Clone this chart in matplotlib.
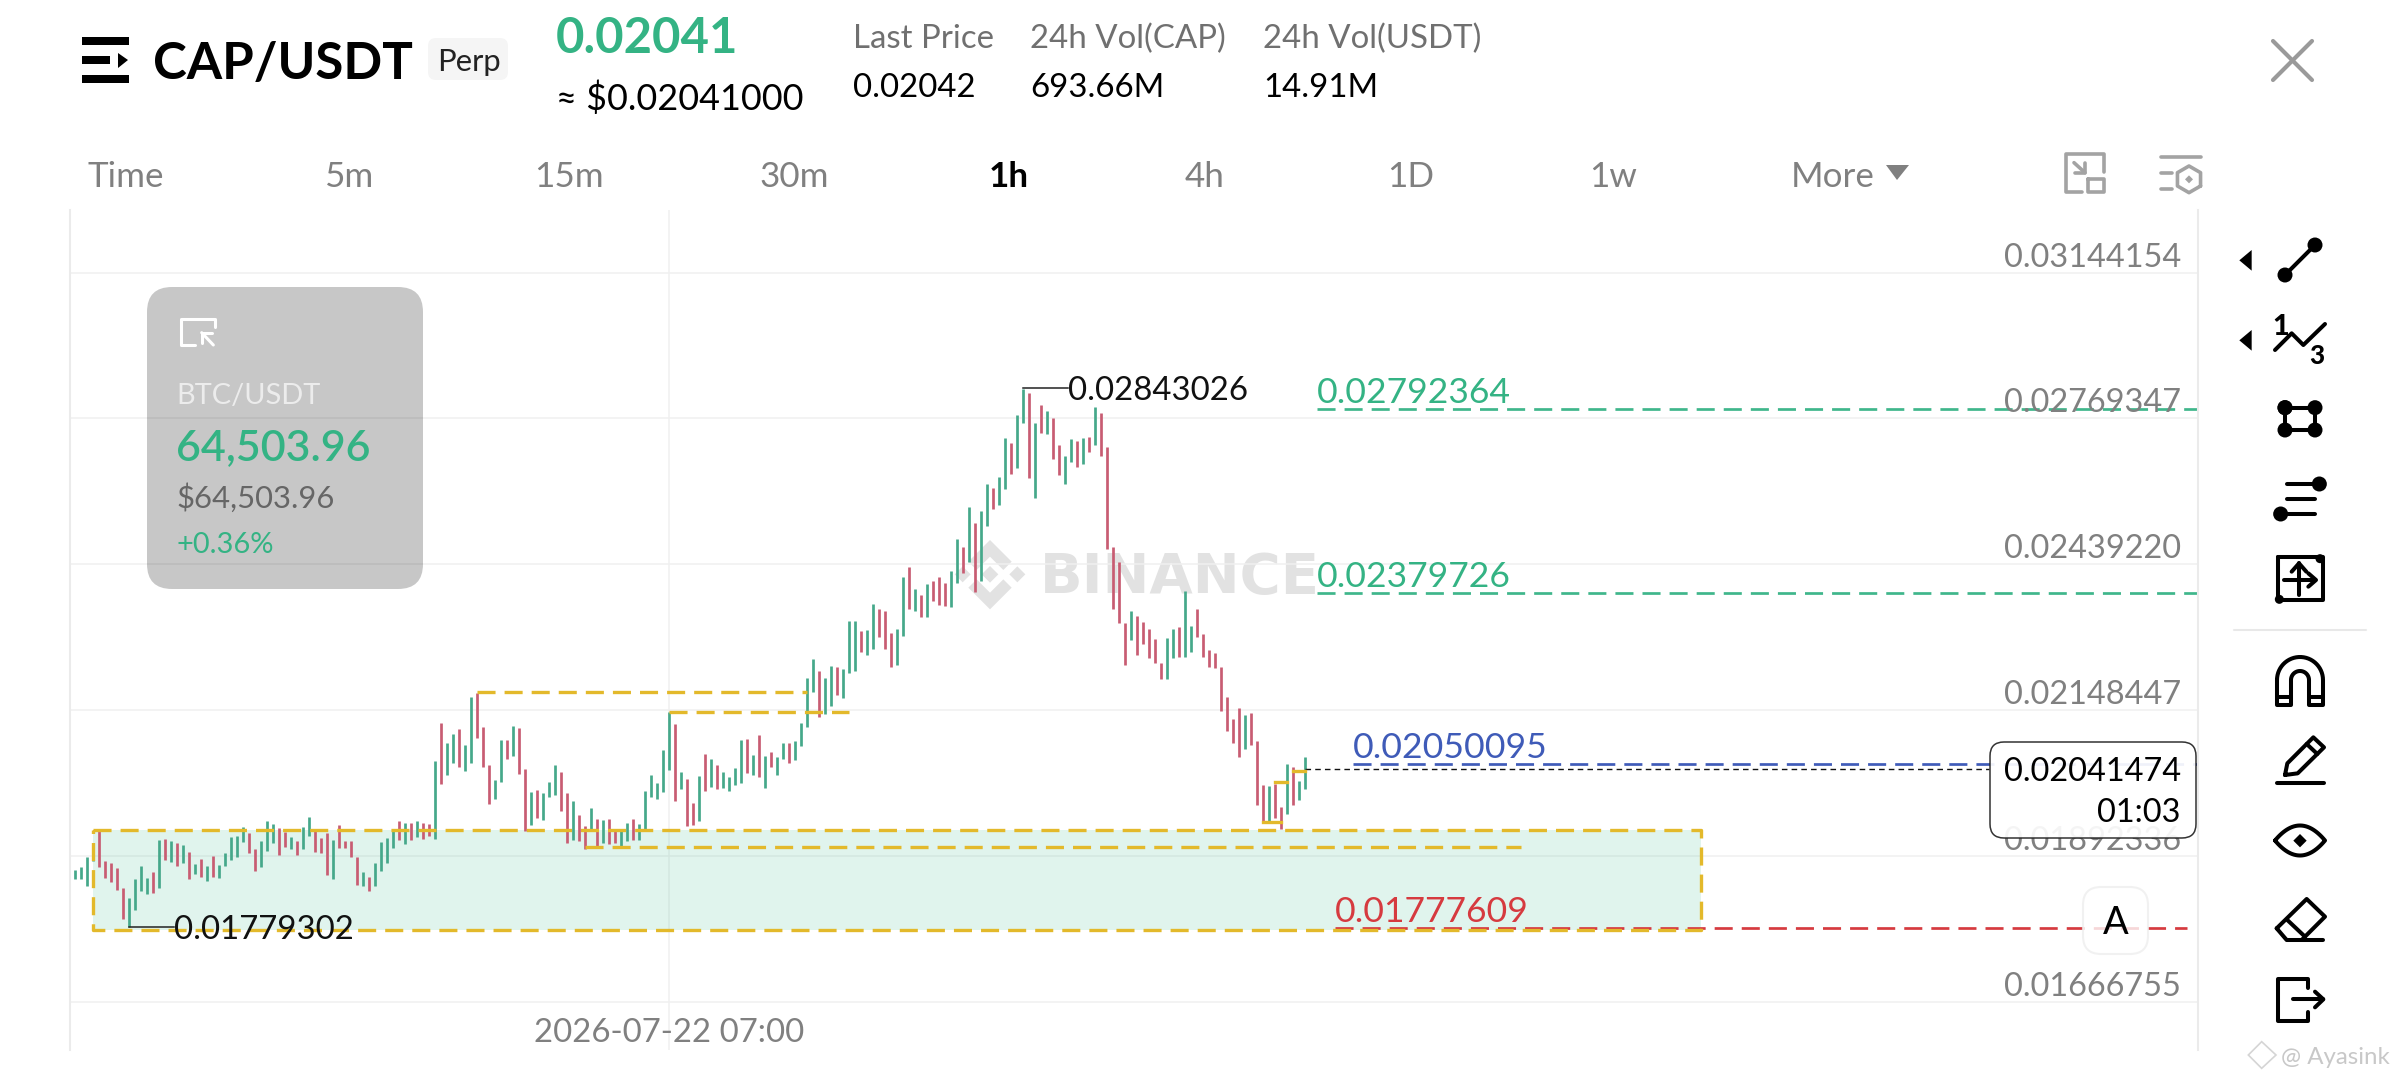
import numpy as np
import matplotlib
matplotlib.use("Agg")
import matplotlib.pyplot as plt
from matplotlib.patches import FancyBboxPatch, Polygon, Circle, Rectangle

plt.rcParams['font.family'] = ['Lato', 'DejaVu Sans']
plt.rcParams['lines.scale_dashes'] = False

# one entry per hourly bar, left to right
bar_low = [
    0.018541, 0.018541, 0.018434, 0.018845, 0.018746, 0.018557,
    0.018504, 0.018370, 0.017917, 0.017793, 0.018053, 0.018349, 0.018306, 0.018327, 0.018402, 0.018856,
    0.018823, 0.018758, 0.018812, 0.018552, 0.018628, 0.018574, 0.018509, 0.018574, 0.018563, 0.018758,
    0.018856, 0.018911, 0.019154, 0.018977, 0.018682, 0.018736, 0.018999, 0.019132, 0.018933, 0.019065,
    0.019043, 0.018933, 0.019032, 0.019254, 0.018988, 0.018966, 0.018606, 0.018552, 0.019054, 0.019054,
    0.018900, 0.018455, 0.018434, 0.018349, 0.018434, 0.018682, 0.018812, 0.019054, 0.019187, 0.019120,
    0.019187, 0.019243, 0.019209, 0.019254, 0.019209, 0.020146, 0.020298, 0.020511, 0.020440, 0.020381,
    0.020523, 0.020969, 0.020440, 0.019798, 0.019879, 0.020181, 0.020583, 0.020643, 0.020322, 0.019344,
    0.019434, 0.019558, 0.019524, 0.019913, 0.019960, 0.019672, 0.019132, 0.019187, 0.019176, 0.019032,
    0.019366, 0.019087, 0.019143, 0.019120, 0.019143, 0.019087, 0.019165, 0.019187, 0.019187, 0.019366,
    0.019913, 0.019879, 0.020012, 0.020393, 0.019844, 0.020052, 0.019422, 0.019434, 0.019513, 0.020029,
    0.020087, 0.020064, 0.020076, 0.020029, 0.020134, 0.020169, 0.020346, 0.020310, 0.020275, 0.020076,
    0.020440, 0.020310, 0.020583, 0.020523, 0.020571, 0.020823, 0.021177, 0.021826, 0.021350, 0.021412,
    0.021561, 0.021762, 0.021712, 0.022183, 0.022235, 0.022599, 0.022547, 0.022652, 0.022903, 0.022665,
    0.022312, 0.022351, 0.022916, 0.023468, 0.023414, 0.023305, 0.023305, 0.023618, 0.023550, 0.023523,
    0.023509, 0.023991, 0.024201, 0.024441, 0.023818, 0.024047, 0.025219, 0.025588, 0.025677, 0.026037,
    0.026387, 0.026525, 0.027577, 0.026295, 0.025842, 0.027338, 0.027322, 0.026742, 0.026372, 0.026158,
    0.026664, 0.026556, 0.026618, 0.026897, 0.027054, 0.026804, 0.024726, 0.023454, 0.023184, 0.022338,
    0.022836, 0.022534, 0.022757, 0.022481, 0.022377, 0.022068, 0.022068, 0.022481, 0.022508, 0.022494,
    0.022599, 0.022890, 0.022494, 0.022312, 0.022280, 0.021461, 0.021091, 0.020884, 0.020631, 0.020775,
    0.020848, 0.019775, 0.019490, 0.019513, 0.019558, 0.019366, 0.019626, 0.019787, 0.019867, 0.020064,
]
bar_high = [
    0.018693, 0.018737, 0.018900, 0.019021, 0.019343, 0.018845,
    0.018812, 0.018720, 0.018402, 0.018237, 0.018552, 0.018763, 0.018563, 0.018660, 0.019187, 0.019198,
    0.019165, 0.019132, 0.019104, 0.018988, 0.018790, 0.018867, 0.018758, 0.018922, 0.018779, 0.018977,
    0.019243, 0.019254, 0.019400, 0.019299, 0.019032, 0.019176, 0.019501, 0.019451, 0.019394, 0.019321,
    0.019243, 0.019165, 0.019400, 0.019570, 0.019355, 0.019221, 0.019299, 0.019187, 0.019439, 0.019165,
    0.019176, 0.018911, 0.018660, 0.018574, 0.018812, 0.019159, 0.019221, 0.019355, 0.019501, 0.019468,
    0.019479, 0.019513, 0.019468, 0.019456, 0.020559, 0.021238, 0.020884, 0.021042, 0.021128, 0.020842,
    0.021737, 0.021800, 0.021165, 0.020476, 0.020216, 0.020932, 0.020932, 0.021189, 0.021146, 0.020405,
    0.020006, 0.020041, 0.019994, 0.020181, 0.020482, 0.020363, 0.019994, 0.019856, 0.019609, 0.019422,
    0.019735, 0.019535, 0.019524, 0.019535, 0.019355, 0.019344, 0.019468, 0.019535, 0.019456, 0.020029,
    0.020298, 0.020157, 0.020751, 0.021455, 0.021226, 0.020357, 0.020240, 0.019821, 0.020287, 0.020679,
    0.020583, 0.020482, 0.020357, 0.020263, 0.020422, 0.020932, 0.020945, 0.020667, 0.021024, 0.020643,
    0.020715, 0.020631, 0.020884, 0.020884, 0.020908, 0.021238, 0.022087, 0.022455, 0.022235, 0.022093,
    0.022325, 0.022312, 0.022261, 0.023211, 0.023224, 0.023023, 0.023036, 0.023557, 0.023468, 0.023414,
    0.022969, 0.023050, 0.024117, 0.024328, 0.023866, 0.023742, 0.023977, 0.024033, 0.024117, 0.023991,
    0.024257, 0.024943, 0.024755, 0.025647, 0.025293, 0.025558, 0.026158, 0.026060, 0.026326, 0.027227,
    0.027117, 0.027770, 0.028406, 0.028307, 0.027577, 0.028029, 0.027867, 0.027706, 0.027054, 0.026804,
    0.027211, 0.027164, 0.027227, 0.027259, 0.027964, 0.027818, 0.027007, 0.024755, 0.024441, 0.023184,
    0.023427, 0.023319, 0.023197, 0.023063, 0.022850, 0.022377, 0.022876, 0.023063, 0.023090, 0.023839,
    0.023117, 0.023468, 0.022956, 0.022639, 0.022573, 0.022299, 0.021737, 0.021312, 0.021518, 0.021399,
    0.021424, 0.020920, 0.020134, 0.020111, 0.020146, 0.019752, 0.020500, 0.020452, 0.020193, 0.020631,
]
bar_dir = "GGGGRRRRRGGGGRGRGRGRGRGRGGGGGRRGGGRRGRGGRRRGRRRRGRGGGGRGRGRRGRGGRGGRRRGGRGRRGRGGGRRGRRGRGRRGGRGGGGGGRGRRGRGRGGGGRGRGRGGRGGGGRGGRGGGRGGRRRGGRGRGRRRGGRGRGGRGGRGGRGRGRRGGRGRGRRRRRGRRRRRGGRGGRRRRRRRRGRRRGRRGRGG"

price_ticks = [0.03144154, 0.02769347, 0.02439220, 0.02148447, 0.01892336, 0.01666755]
target_high = 0.02792364
target_mid = 0.02379726
entry_price = 0.02050095
stop_price = 0.01777609
last_price = 0.02041474
peak_price = 0.02843026
trough_price = 0.01779302
zone_top = 0.019355
zone_bottom = 0.017741
level_a = 0.021821
level_b = 0.021443
level_c = 0.019071
level_d = 0.019485
level_e = 0.020181
level_f = 0.020380

periods = ["Time", "5m", "15m", "30m", "1h", "4h", "1D", "1w", "More"]
period_x = [87, 325, 534, 759, 989, 1185, 1387, 1589, 1791]
stats = [("Last Price", "0.02042"), ("24h Vol(CAP)", "693.66M"), ("24h Vol(USDT)", "14.91M")]
stats_x = [853, 1030, 1263]

GREEN = '#45A88A'
RED = '#C85C72'
TXT_GREEN = '#34B384'
YELLOW = '#E3B92B'
GRID = '#F0F0F0'
GRAY = '#808080'
DASH = (0, (13, 6.5))


def pt(px):
    return px * 0.72


fig = plt.figure(figsize=(24, 10.8), dpi=100)
L, R, T, B = 70, 2198, 210, 1050
ax_bg = fig.add_axes([0, 0, 1, 1], zorder=0)
ax = fig.add_axes([L / 2400, 1 - B / 1080, (R - L) / 2400, (B - T) / 1080], zorder=1)
ax_ui = fig.add_axes([0, 0, 1, 1], zorder=2)
for a in (ax_bg, ax_ui):
    a.set_xlim(0, 2400)
    a.set_ylim(1080, 0)
    a.axis('off')
ax_ui.patch.set_alpha(0)
ax.patch.set_alpha(0)

# watermark
z3x = lambda pts: [(780 + x / 3, 360 + y / 3) for x, y in pts]
for shape in ([(630, 540), (695, 605), (670, 630), (630, 590), (590, 630), (565, 605)],
              [(630, 748), (695, 683), (670, 658), (630, 698), (590, 658), (565, 683)],
              [(630, 618), (655, 643), (630, 668), (605, 643)],
              [(712, 619), (736, 643), (712, 667), (688, 643)],
              [(548, 619), (572, 643), (548, 667), (524, 643)]):
    ax_bg.add_patch(Polygon(z3x(shape), color='#E2E2E2', lw=0))
ax_bg.text(1040, 593, "BINANCE", fontsize=pt(56), fontweight='bold', color='#E2E2E2', ha='left', va='baseline',
           family='DejaVu Sans')

# price chart, log scale like the exchange's axis
ax.set_yscale('log')
ax.set_xlim(-0.883, 353.8)
ax.set_ylim(0.015980, 0.033205)
ax.minorticks_off()
ax.set_yticks(price_ticks)
ax.set_xticks([99])
ax.tick_params(length=0, labelleft=False, labelbottom=False)
ax.grid(True, color=GRID, lw=1.1)
ax.set_axisbelow(True)
for s in ('top', 'bottom'):
    ax.spines[s].set_visible(False)
for s in ('left', 'right'):
    ax.spines[s].set_color('#EBEBEB')
    ax.spines[s].set_linewidth(1.5)

for p in price_ticks:
    ax.annotate(f"{p:.8f}", xy=(1, p), xycoords=('axes fraction', 'data'), xytext=(-17, 6),
                textcoords='offset pixels', ha='right', va='baseline', fontsize=pt(32.5), color=GRAY)
ax.annotate("2026-07-22 07:00", xy=(99, 0), xycoords=('data', 'axes fraction'), xytext=(0, 8),
            textcoords='offset pixels', ha='center', va='baseline', fontsize=pt(33), color=GRAY)

ax.fill_between([3, 271], zone_bottom, zone_top, color='#35B88A', alpha=0.15, lw=0, zorder=1.5)

idx = np.arange(len(bar_low))
ax.vlines(idx, bar_low, bar_high, colors=[GREEN if d == 'G' else RED for d in bar_dir],
          lw=1.95, zorder=2)

ylw = dict(color=YELLOW, lw=2.4, ls=DASH, zorder=3)
ax.plot([3, 271, 271, 3, 3], [zone_top, zone_top, zone_bottom, zone_bottom, zone_top], **ylw)
ax.plot([67, 122], [level_a, level_a], **ylw)
ax.plot([99, 129], [level_b, level_b], **ylw)
ax.plot([85, 241], [level_c, level_c], **ylw)
ax.plot([198, 201], [level_d, level_d], color=YELLOW, lw=2.4, zorder=3)
ax.plot([200, 202], [level_e, level_e], color=YELLOW, lw=2.4, zorder=3)
ax.plot([203, 205], [level_f, level_f], color=YELLOW, lw=2.4, zorder=3)

ax.plot([207, 353.8], [target_high] * 2, color='#3FB68B', lw=1.95, ls=DASH, zorder=2)
ax.plot([207, 353.8], [target_mid] * 2, color='#3FB68B', lw=1.95, ls=DASH, zorder=2)
ax.plot([213, 353.8], [entry_price] * 2, color='#3F5BB8', lw=1.95, ls=DASH, zorder=2)
ax.plot([210, 352], [stop_price] * 2, color='#D63A3F', lw=1.95, ls=DASH, zorder=2)
ax.plot([205, 319], [last_price] * 2, color='#111111', lw=1.0, ls=(0, (4, 3)), zorder=2)

for val, x0, col in ((target_high, 207, TXT_GREEN), (target_mid, 207, TXT_GREEN),
                     (entry_price, 213, '#3F5BB8'), (stop_price, 210, '#D63A3F')):
    ax.annotate(f"{val:.8f}", xy=(x0, val), xytext=(0, 6), textcoords='offset pixels',
                ha='left', va='baseline', fontsize=pt(35.5), color=col, zorder=4)

ax.plot([9, 16.5], [trough_price] * 2, color='#222222', lw=1.1, zorder=4)
ax.annotate(f"{trough_price:.8f}", xy=(16.5, trough_price), xytext=(0, -12), textcoords='offset pixels',
            ha='left', va='baseline', fontsize=pt(33), color='#111111', zorder=5)
ax.plot([158, 165.5], [peak_price] * 2, color='#222222', lw=1.1, zorder=4)
ax.annotate(f"{peak_price:.8f}", xy=(165.5, peak_price), xytext=(0, -12), textcoords='offset pixels',
            ha='left', va='baseline', fontsize=pt(33), color='#111111', zorder=5)

ui = ax_ui


def box(x0, y0, x1, y1, r, **kw):
    ui.add_patch(FancyBboxPatch((x0 + r, y0 + r), x1 - x0 - 2 * r, y1 - y0 - 2 * r,
                                boxstyle=f"round,pad={r},rounding_size={r}", **kw))


def line(pts, col='black', w=2.9, **kw):
    xs, ys = zip(*pts)
    ui.plot(xs, ys, color=col, lw=w, solid_capstyle='round', solid_joinstyle='round', **kw)


def t(x, y, s, px, col='black', ha='left', weight='normal'):
    ui.text(x, y, s, fontsize=pt(px), color=col, ha=ha, va='baseline', fontweight=weight)


# BTC panel
box(147, 287, 423, 589, 25, facecolor='black', alpha=0.22, lw=0)
bt = lambda pts: [(130 + x / 3, 270 + y / 3) for x, y in pts]
line(bt([(256, 170), (256, 148), (152, 148), (152, 226), (195, 226)]), 'white', 2.2)
line(bt([(250, 225), (215, 188)]), 'white', 2.2)
line(bt([(215, 218), (215, 188), (245, 188)]), 'white', 2.2)
t(176, 404, "BTC/USDT", 29, '#ECECEC')
t(176, 460, "64,503.96", 43, TXT_GREEN, weight='semibold')
t(176, 508, "$64,503.96", 31, '#666666')
t(176, 553, "+0.36%", 29, TXT_GREEN)

# price box and auto button
box(1990, 742, 2196, 838, 14, facecolor='white', edgecolor='#222222', lw=1.1, alpha=0.92)
t(2181, 781, "0.02041474", 32.5, 'black', ha='right')
t(2181, 822, "01:03", 32.5, 'black', ha='right')
box(2083, 887, 2148, 954, 18, facecolor='white', edgecolor='#EEEEEE', lw=1.5, alpha=0.8)
t(2116, 934, "A", 38, 'black', ha='center')

# header
for y0, x1 in ((37, 129), (56, 110), (75, 129)):
    ui.add_patch(Rectangle((82, y0), x1 - 82, 8, color='black', lw=0))
ui.add_patch(Polygon([(118, 53), (128, 60), (118, 68)], color='black', lw=0))
t(153, 79, "CAP/USDT", 51, 'black', weight='bold')
box(428, 38, 508, 80, 8, facecolor='#F5F5F5', lw=0)
t(437, 71, "Perp", 31, '#222222')
t(556, 53, "0.02041", 49, TXT_GREEN, weight='bold')
t(556, 110, "≈ $0.02041000", 36, 'black')
for (lab, val), x in zip(stats, stats_x):
    t(x, 48, lab, 33, '#707070')
    t(x, 97, val, 33, 'black')
for lab, x in zip(periods, period_x):
    on = lab == "1h"
    t(x, 187, lab, 35, 'black' if on else GRAY, weight='bold' if on else 'normal')
ui.add_patch(Polygon([(1886, 165), (1909, 165), (1897, 180)], color=GRAY, lw=0))
line([(2273, 41), (2312, 80)], '#9A9A9A', 3)
line([(2312, 41), (2273, 80)], '#9A9A9A', 3)

z6 = lambda pts: [(2000 + x / 3, 130 + y / 3) for x, y in pts]
z7 = lambda pts: [(2000 + x / 3, 600 + y / 3) for x, y in pts]

# grey icons
g = '#A3A3A3'
line(z6([(312, 125), (312, 72), (198, 72), (198, 186), (245, 186)]), g, 2.6)
line(z6([(265, 148), (312, 148), (312, 186), (265, 186), (265, 148)]), g, 2.6)
line(z6([(222, 98), (255, 128)]), g, 2.6)
line(z6([(255, 100), (255, 128), (225, 128)]), g, 2.6)
line(z6([(482, 80), (604, 80)]), g, 2.6)
line(z6([(482, 128), (515, 128)]), g, 2.6)
line(z6([(482, 177), (515, 177)]), g, 2.6)
ang = np.radians(np.arange(30, 391, 60))
line(z6(list(zip(567 + 40 * np.cos(ang), 148 + 40 * np.sin(ang)))), g, 2.6)
ui.add_patch(Polygon(z6([(567, 136), (579, 148), (567, 160), (555, 148)]), color=g, lw=0))


def dot(x, y, r=7.5, **kw):
    ui.add_patch(Circle((x, y), r, **{'color': 'black', 'lw': 0, **kw}))


# tool icons
ui.add_patch(Polygon(z6([(755, 360), (755, 422), (718, 391)]), color='black', lw=0))
ui.add_patch(Polygon(z6([(755, 600), (755, 662), (718, 631)]), color='black', lw=0))
line(z6([(855, 435), (945, 345)]))
for p in z6([(855, 435), (945, 345)]):
    dot(*p)
ui.text(2281, 335, "1", fontsize=pt(29), fontweight='black', ha='center', va='baseline', color='black')
line(z6([(825, 660), (875, 610), (910, 645), (975, 582)]))
ui.text(2317, 364, "3", fontsize=pt(26), fontweight='black', ha='center', va='baseline', color='black')
sq = z6([(855, 833), (945, 833), (945, 900), (855, 900), (855, 833)])
line(sq)
for p in sq:
    dot(*p)
line(z6([(860, 1062), (945, 1062)]))
line(z6([(860, 1106), (945, 1106)]))
line(z6([(845, 1152), (945, 1152)]))
dot(*z6([(958, 1062)])[0])
dot(*z6([(842, 1152)])[0])
line(z6([(835, 1282), (968, 1282), (968, 1410), (835, 1410), (835, 1282)]))
for p in z6([(960, 1286), (838, 1408)]):
    dot(*p, r=4.5, facecolor='white', edgecolor='black', linewidth=1.8, zorder=5)
line(z6([(897, 1300), (897, 1395)]))
line(z6([(875, 1325), (897, 1300), (919, 1325)]))
line(z6([(852, 1350), (945, 1350)]))
line(z6([(925, 1330), (948, 1350), (925, 1370)]))
line([(2234, 630), (2366, 630)], '#E8E8E8', 1.5)

ang = np.radians(np.linspace(180, 360, 30))
outer = [(2300 + 23 * np.cos(a), 680 + 23 * np.sin(a)) for a in ang]
inner = [(2300 + 9 * np.cos(a), 680 + 9 * np.sin(a)) for a in ang]
line(outer + [(2323, 705), (2309, 705), (2309, 680)] + inner[::-1] + [(2291, 705), (2277, 705), (2277, 680)])
line([(2277, 697), (2291, 697)])
line([(2309, 697), (2323, 697)])

pen = z7([(855, 525), (862, 490), (940, 412), (972, 442), (893, 520), (855, 525)])
line(pen)
line(z7([(920, 432), (952, 462)]))
line(z7([(830, 550), (972, 550)]))

xs = np.linspace(-1, 1, 30)
upper = [(2300 + 25 * u, 840.5 - 15 * (1 - u ** 2)) for u in xs]
lower = [(2300 + 25 * u, 840.5 + 15 * (1 - u ** 2)) for u in xs]
line(upper + lower[::-1])
ui.add_patch(Polygon(z7([(900, 702), (920, 722), (900, 742), (880, 722)]), color='black', lw=0))

line(z7([(830, 985), (920, 897), (975, 950), (905, 1020), (860, 1020), (830, 985)]))
line(z7([(862, 960), (915, 1010)]))
line(z7([(905, 1020), (968, 1020)]))

line(z7([(925, 1165), (925, 1137), (835, 1137), (835, 1262), (925, 1262), (925, 1235)]))
line(z7([(880, 1198), (968, 1198)]))
line(z7([(945, 1175), (970, 1198), (945, 1222)]))

# corner mark
t(2281, 1064, "@ Ayasink", 24, '#C8C8C8')
ui.add_patch(Polygon(z7([(785, 1325), (828, 1365), (785, 1405), (745, 1365)]), facecolor='none', edgecolor='#D5D5D5', lw=1.2))

fig.savefig("out.png", dpi=100)
